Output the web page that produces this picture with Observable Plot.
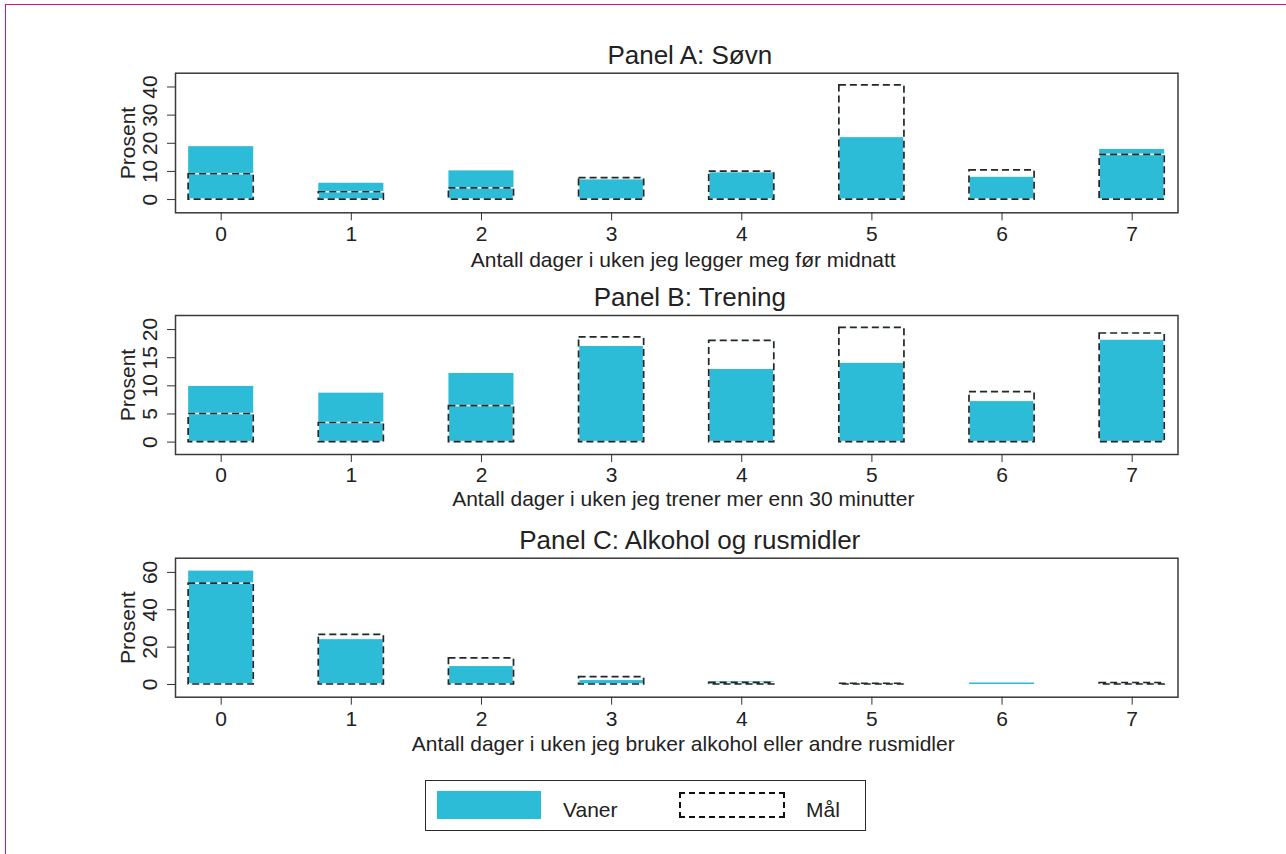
<!DOCTYPE html>
<html>
<head>
<meta charset="utf-8">
<script src="https://cdn.jsdelivr.net/npm/d3@7"></script>
<script src="https://cdn.jsdelivr.net/npm/@observablehq/plot@0.6"></script>
<style>
  html, body { margin: 0; padding: 0; background: #fff; }
  #wrap { position: relative; width: 1286px; height: 854px; overflow: hidden; font-family: "Liberation Sans", Arial, Helvetica, sans-serif; color: #222; }
  #border { position: absolute; left: 5px; top: 4px; width: 1400px; height: 1000px; border-left: 1.5px solid #d0167a; border-top: 1.5px solid #d0167a; }
  #legend { position: absolute; left: 425px; top: 780px; width: 441px; height: 51px; border: 1.5px solid #2a2a2a; box-sizing: border-box; }
  .sw { position: absolute; box-sizing: border-box; }
  .lt { position: absolute; font-size: 21px; line-height: 21px; }
</style>
</head>
<body>
<div id="wrap">
  <div id="border"></div>
  <div id="legend">
    <div class="sw" style="left:11px; top:10px; width:104px; height:28px; background:#2dbcd7;"></div>
    <div class="lt" style="left:137px; top:18px;">Vaner</div>
    <div class="sw" style="left:253px; top:11px; width:106px; height:26px; border:2.5px dashed #111;"></div>
    <div class="lt" style="left:380px; top:18px;">Mål</div>
  </div>
</div>
<script>
const days = [0, 1, 2, 3, 4, 5, 6, 7];

const sovnVaner = [18.8, 5.8, 10.2, 7.0, 9.5, 22.0, 7.9, 17.8];
const sovnMaal  = [9.0, 2.6, 4.0, 7.6, 9.9, 40.6, 10.4, 15.9];

const treningVaner = [9.9, 8.7, 12.2, 17.0, 12.9, 14.0, 7.2, 18.1];
const treningMaal  = [5.0, 3.4, 6.4, 18.6, 18.0, 20.3, 8.9, 19.3];

const alkoholVaner = [60.7, 24.0, 9.6, 2.1, 1.6, 0.5, 0.8, 0.4];
const alkoholMaal  = [54.0, 26.6, 14.0, 3.9, 0.9, 0.4, 0, 0.8];

const sovnTicks = [0, 10, 20, 30, 40];
const treningTicks = [0, 5, 10, 15, 20];
const alkoholTicks = [0, 20, 40, 60];

const titles = ["Panel A: Søvn", "Panel B: Trening", "Panel C: Alkohol og rusmidler"];
const xLabels = [
  "Antall dager i uken jeg legger meg før midnatt",
  "Antall dager i uken jeg trener mer enn 30 minutter",
  "Antall dager i uken jeg bruker alkohol eller andre rusmidler"
];
const yLabel = "Prosent";

const CYAN = "#2dbcd7";
const FONT = "'Liberation Sans', Arial, Helvetica, sans-serif";

function panel({vaner, maal, ticks, yDomain, title, xLabel, top, height, marginTop, marginBottom, titleDy, labelDy, tickPad}) {
  const rows = days.map((d, i) => ({day: d, vaner: vaner[i], maal: maal[i]}));
  const bx1 = d => d.day - 0.25, bx2 = d => d.day + 0.25;
  const goals = rows.filter(d => d.maal > 0);
  const p = Plot.plot({
    width: 1286,
    height,
    marginLeft: 175,
    marginRight: 108.5,
    marginTop,
    marginBottom,
    x: {domain: [-0.351, 7.352], axis: null},
    y: {domain: yDomain, axis: null},
    style: {fontFamily: FONT, fontSize: "21px", color: "#222", background: "transparent", overflow: "visible"},
    marks: [
      Plot.rectY(rows, {x1: bx1, x2: bx2, y1: 0, y2: "vaner", fill: CYAN}),
      Plot.rectY(goals, {x1: bx1, x2: bx2, y1: 0, y2: "maal", fill: "none", stroke: "#e8f8fb", strokeWidth: 1.6}),
      Plot.rectY(goals, {x1: bx1, x2: bx2, y1: 0, y2: "maal", fill: "none", stroke: "#262626", strokeWidth: 1.7, strokeDasharray: "7,4"}),
      Plot.frame({stroke: "#3a3a3a", strokeWidth: 1.5}),
      Plot.axisX(days, {anchor: "bottom", tickSize: 8, tickPadding: tickPad, fontSize: 21, label: null, tickFormat: d => String(d), stroke: "#333", fill: "#222"}),
      Plot.axisY(ticks, {anchor: "left", tickSize: 8, tickFormat: () => "", label: null, stroke: "#333"}),
      Plot.text(ticks, {y: d => d, text: d => String(d), frameAnchor: "left", textAnchor: "middle", lineAnchor: "middle", dx: -25, rotate: -90, fontSize: 21, fill: "#222"}),
      Plot.text([yLabel], {text: d => d, frameAnchor: "left", textAnchor: "middle", lineAnchor: "middle", dx: -47, rotate: -90, fontSize: 21, fill: "#222"}),
      Plot.text([title], {text: d => d, frameAnchor: "top", textAnchor: "middle", lineAnchor: "middle", dx: 13, dy: titleDy, fontSize: 26, fill: "#222"}),
      Plot.text([xLabel], {text: d => d, frameAnchor: "bottom", textAnchor: "middle", lineAnchor: "middle", dx: 6.5, dy: labelDy, fontSize: 21, fill: "#222"})
    ]
  });
  p.style.position = "absolute";
  p.style.top = top + "px";
  p.style.left = "0px";
  document.getElementById("wrap").appendChild(p);
}

panel({vaner: sovnVaner, maal: sovnMaal, ticks: sovnTicks, yDomain: [-4.7, 44.9],
       title: titles[0], xLabel: xLabels[0], top: 0, height: 275, marginTop: 72.7, marginBottom: 62.7,
       titleDy: -18, labelDy: 47, tickPad: 5.6});
panel({vaner: treningVaner, maal: treningMaal, ticks: treningTicks, yDomain: [-2.2, 22.5],
       title: titles[1], xLabel: xLabels[1], top: 275, height: 245, marginTop: 40, marginBottom: 66,
       titleDy: -18, labelDy: 45, tickPad: 4.6});
panel({vaner: alkoholVaner, maal: alkoholMaal, ticks: alkoholTicks, yDomain: [-6.8, 67.6],
       title: titles[2], xLabel: xLabels[2], top: 520, height: 250, marginTop: 37.7, marginBottom: 73.3,
       titleDy: -18, labelDy: 47, tickPad: 5.6});
</script>
</body>
</html>
